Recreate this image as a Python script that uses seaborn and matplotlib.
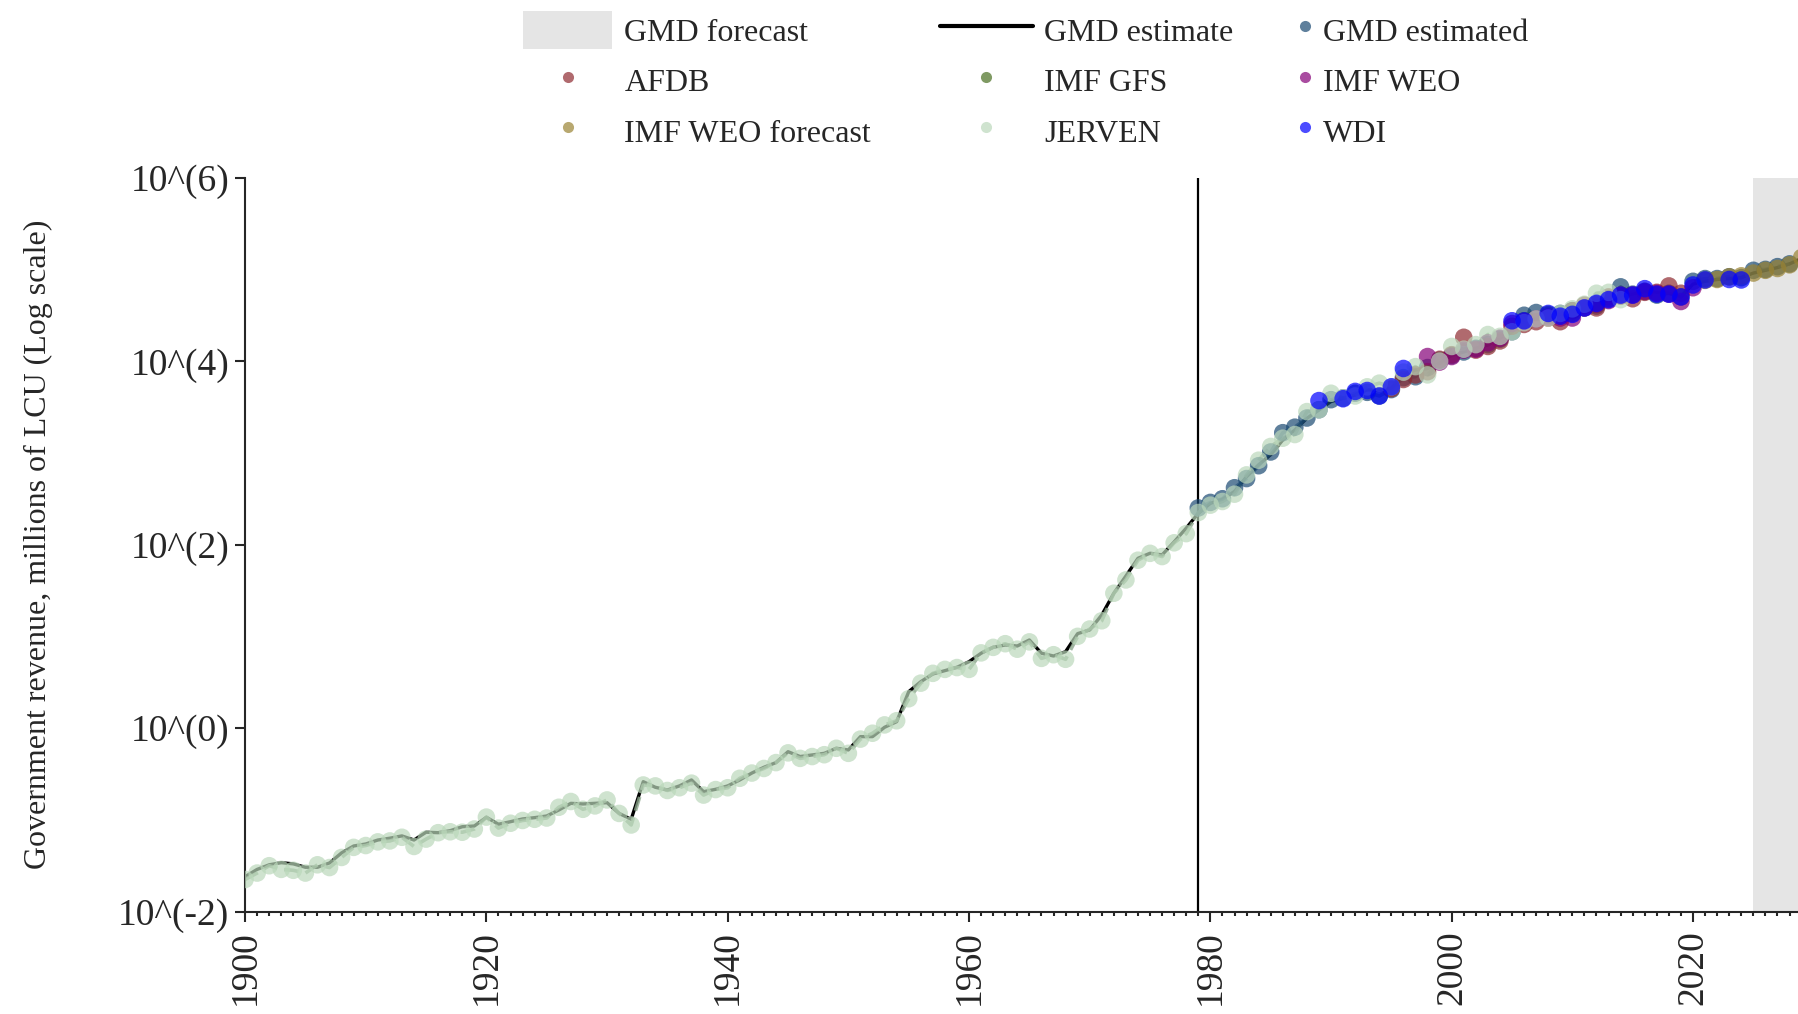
import numpy as np
import pandas as pd
import matplotlib
matplotlib.use("Agg")
import matplotlib.pyplot as plt
import seaborn as sns
from matplotlib.lines import Line2D
from matplotlib.patches import Patch
from matplotlib.ticker import MultipleLocator

sns.set_style("ticks")
plt.rcParams['font.family'] = ['Liberation Serif', 'DejaVu Serif']

# GMD estimate (log10 of millions of LCU), one value per year 1900-2029
est_years = list(range(1900, 2030))
est_vals = [-1.62, -1.54, -1.49, -1.467, -1.48, -1.517, -1.517, -1.47, -1.36, -1.285,
            -1.263, -1.22, -1.20, -1.175, -1.22, -1.135, -1.14, -1.118, -1.075, -1.067,
            -0.972, -1.048, -1.02, -0.99, -0.976, -0.958, -0.893, -0.82, -0.827, -0.82,
            -0.813, -0.93, -0.994, -0.584, -0.645, -0.675, -0.63, -0.565, -0.693, -0.667,
            -0.63, -0.565, -0.49, -0.427, -0.376, -0.257, -0.31, -0.293, -0.275, -0.22,
            -0.238, -0.093, -0.093, 0.009, 0.07, 0.397, 0.506, 0.59, 0.626, 0.663,
            0.724, 0.816, 0.881, 0.906, 0.895, 0.961, 0.816, 0.786, 0.833, 1.03,
            1.07, 1.233, 1.47, 1.658, 1.851, 1.906, 1.888, 2.03, 2.18, 2.342,
            2.45, 2.495, 2.58, 2.74, 2.87, 2.98, 3.14, 3.25, 3.377, 3.468,
            3.56, 3.595, 3.63, 3.686, 3.686, 3.704, 3.85, 3.904, 3.92, 3.977,
            4.067, 4.10, 4.14, 4.176, 4.25, 4.36, 4.43, 4.46, 4.50, 4.51,
            4.53, 4.58, 4.62, 4.66, 4.71, 4.73, 4.76, 4.75, 4.74, 4.70,
            4.84, 4.87, 4.89, 4.90, 4.91, 4.96, 4.99, 5.02, 5.06, 5.12]

# source observations
jerven_years = list(range(1900, 2015))
jerven_vals = [-1.65, -1.58, -1.50, -1.54, -1.55, -1.58, -1.49, -1.52, -1.41, -1.30,
               -1.28, -1.24, -1.23, -1.19, -1.29, -1.21, -1.14, -1.13, -1.135, -1.10,
               -0.97, -1.09, -1.037, -1.007, -0.994, -0.98, -0.863, -0.80, -0.885, -0.848,
               -0.783, -0.93, -1.056, -0.62, -0.63, -0.68, -0.65, -0.60, -0.73, -0.67,
               -0.65, -0.547, -0.49, -0.44, -0.376, -0.27, -0.33, -0.31, -0.29, -0.22,
               -0.275, -0.12, -0.056, 0.035, 0.08, 0.32, 0.49, 0.597, 0.64, 0.66,
               0.64, 0.82, 0.88, 0.92, 0.86, 0.94, 0.76, 0.80, 0.75, 1.00,
               1.08, 1.17, 1.47, 1.615, 1.83, 1.905, 1.87, 2.02, 2.12, 2.35,
               2.43, 2.47, 2.55, 2.76, 2.92, 3.07, 3.16, 3.20, 3.45, 3.47,
               3.65, 3.60, 3.62, 3.72, 3.76, 3.72, 3.88, 3.94, 3.85, 4.00,
               4.16, 4.13, 4.18, 4.29, 4.27, 4.32, 4.42, 4.46, 4.47, 4.52,
               4.57, 4.62, 4.74, 4.75, 4.67]

gmd_years = list(range(1979, 2029))
gmd_vals = [2.40, 2.46, 2.50, 2.62, 2.72, 2.86, 3.01, 3.22, 3.28, 3.38,
            3.47, 3.58, 3.60, 3.65, 3.66, 3.62, 3.69, 3.82, 3.83, 3.93,
            4.01, 4.06, 4.10, 4.14, 4.18, 4.24, 4.32, 4.50, 4.53, 4.50,
            4.52, 4.55, 4.58, 4.60, 4.68, 4.81, 4.73, 4.76, 4.72, 4.74,
            4.70, 4.87, 4.90, 4.90, 4.92, 4.91, 4.99, 5.00, 5.03, 5.06]

afdb_years = list(range(1995, 2020))
afdb_vals = [3.70, 3.80, 3.85, 3.885, 4.02, 4.07, 4.26, 4.12, 4.16, 4.22,
             4.38, 4.40, 4.43, 4.47, 4.43, 4.55, 4.61, 4.58, 4.70, 4.72,
             4.68, 4.75, 4.75, 4.82, 4.74]

gfs_years = [2006, 2008, 2010, 2012, 2014]
gfs_vals = [4.44, 4.51, 4.52, 4.62, 4.71]

weo_years = list(range(1998, 2021))
weo_vals = [4.05, 3.99, 4.05, 4.12, 4.13, 4.20, 4.25, 4.41, 4.43, 4.46,
            4.48, 4.47, 4.47, 4.58, 4.62, 4.66, 4.71, 4.72, 4.76, 4.74,
            4.73, 4.65, 4.80]

weof_years = list(range(2021, 2030))
weof_vals = [4.88, 4.89, 4.92, 4.93, 4.96, 4.99, 5.01, 5.05, 5.13]

wdi_years = [1989, 1991, 1992, 1993, 1994, 1995, 1996,
             2005, 2006, 2008, 2009, 2010, 2011, 2012, 2013, 2014, 2015, 2016,
             2017, 2018, 2019, 2020, 2021, 2023, 2024]
wdi_vals = [3.57, 3.59, 3.67, 3.68, 3.62, 3.72, 3.92,
            4.44, 4.44, 4.52, 4.49, 4.51, 4.58, 4.63, 4.67, 4.72, 4.72, 4.79,
            4.73, 4.73, 4.70, 4.83, 4.885, 4.89, 4.885]

palette = {
    "GMD estimated": "#1b4a73",
    "AFDB": "#8f2b31",
    "IMF GFS": "#496f21",
    "IMF WEO": "#850078",
    "IMF WEO forecast": "#9a8333",
    "JERVEN": "#bbd8bb",
    "WDI": "#0000ff",
}

# draw order of the sources
sources = [
    ("GMD estimated", gmd_years, gmd_vals),
    ("AFDB", afdb_years, afdb_vals),
    ("IMF GFS", gfs_years, gfs_vals),
    ("IMF WEO", weo_years, weo_vals),
    ("JERVEN", jerven_years, jerven_vals),
    ("IMF WEO forecast", weof_years, weof_vals),
    ("WDI", wdi_years, wdi_vals),
]
df = pd.concat([pd.DataFrame({"year": y, "value": v, "source": s}) for s, y, v in sources],
               ignore_index=True)

fig = plt.figure(figsize=(17.98, 10.14), dpi=100)
ax = fig.add_axes([0.1363, 0.101, 1 - 0.1363, 0.7238])

ax.axvspan(2025, 2035, color="#e5e5e5", lw=0, zorder=0)
ax.axvline(1979, color="black", lw=1.6, zorder=1)

sns.lineplot(x=est_years, y=est_vals, color="black", lw=2.4, ax=ax, zorder=2)
sns.lineplot(x=jerven_years, y=jerven_vals, color="#8ba58b", lw=2.6, alpha=0.8,
             ax=ax, zorder=2.5, linestyle=(0, (4, 2)))
sns.lineplot(x=gmd_years, y=gmd_vals, color="#1b4a73", lw=2.6, alpha=0.6,
             ax=ax, zorder=2.5, linestyle=(0, (4, 2)))

sns.scatterplot(data=df, x="year", y="value", hue="source", palette=palette,
                s=160, alpha=0.7, edgecolor="none", linewidth=0, legend=False,
                ax=ax, zorder=3)

ax.set_xlim(1900, 2028.7)
ax.set_ylim(-2, 6)
ax.set_xticks(range(1900, 2021, 20))
ax.xaxis.set_minor_locator(MultipleLocator(1))
ax.set_yticks([-2, 0, 2, 4, 6])
ax.set_yticklabels([f"10^({k})" for k in [-2, 0, 2, 4, 6]])
ax.tick_params(axis="x", which="major", length=7.5, width=1.5, labelsize=27,
               labelrotation=90, pad=6)
ax.tick_params(axis="x", which="minor", length=3, width=1.5)
ax.tick_params(axis="y", which="major", length=7.5, width=1.5, labelsize=27, pad=4)
ax.set_xlabel("")
ax.set_ylabel("Government revenue, millions of LCU (Log scale)", fontsize=23)
ax.yaxis.set_label_coords(-0.1235, 0.5)
sns.despine(ax=ax)
for sp in ["left", "bottom"]:
    ax.spines[sp].set_linewidth(1.5)


def dot(name):
    return Line2D([], [], ls="none", marker="o", ms=8, color=palette[name],
                  alpha=0.7, markeredgewidth=0)


top = 1 - 11.3 / 1014
common = dict(loc="upper left", frameon=False, fontsize=23, borderpad=0,
              borderaxespad=0, labelspacing=0.41, handleheight=1.43)

fig.legend([Patch(fc="#e5e5e5", ec="none"), dot("AFDB"), dot("IMF WEO forecast")],
           ["GMD forecast", "AFDB", "IMF WEO forecast"],
           bbox_to_anchor=(523 / 1798, top), handlelength=2.8,
           handletextpad=0.37, **common)
fig.legend([Line2D([], [], color="black", lw=3), dot("IMF GFS"), dot("JERVEN")],
           ["GMD estimate", "IMF GFS", "JERVEN"],
           bbox_to_anchor=(940 / 1798, top), handlelength=2.9,
           handletextpad=0.35, **common)
fig.legend([dot("GMD estimated"), dot("IMF WEO"), dot("WDI")],
           ["GMD estimated", "IMF WEO", "WDI"],
           bbox_to_anchor=(1297 / 1798, top), handlelength=0.5,
           handletextpad=0.3, **common)

fig.savefig("out.png", dpi=100)
